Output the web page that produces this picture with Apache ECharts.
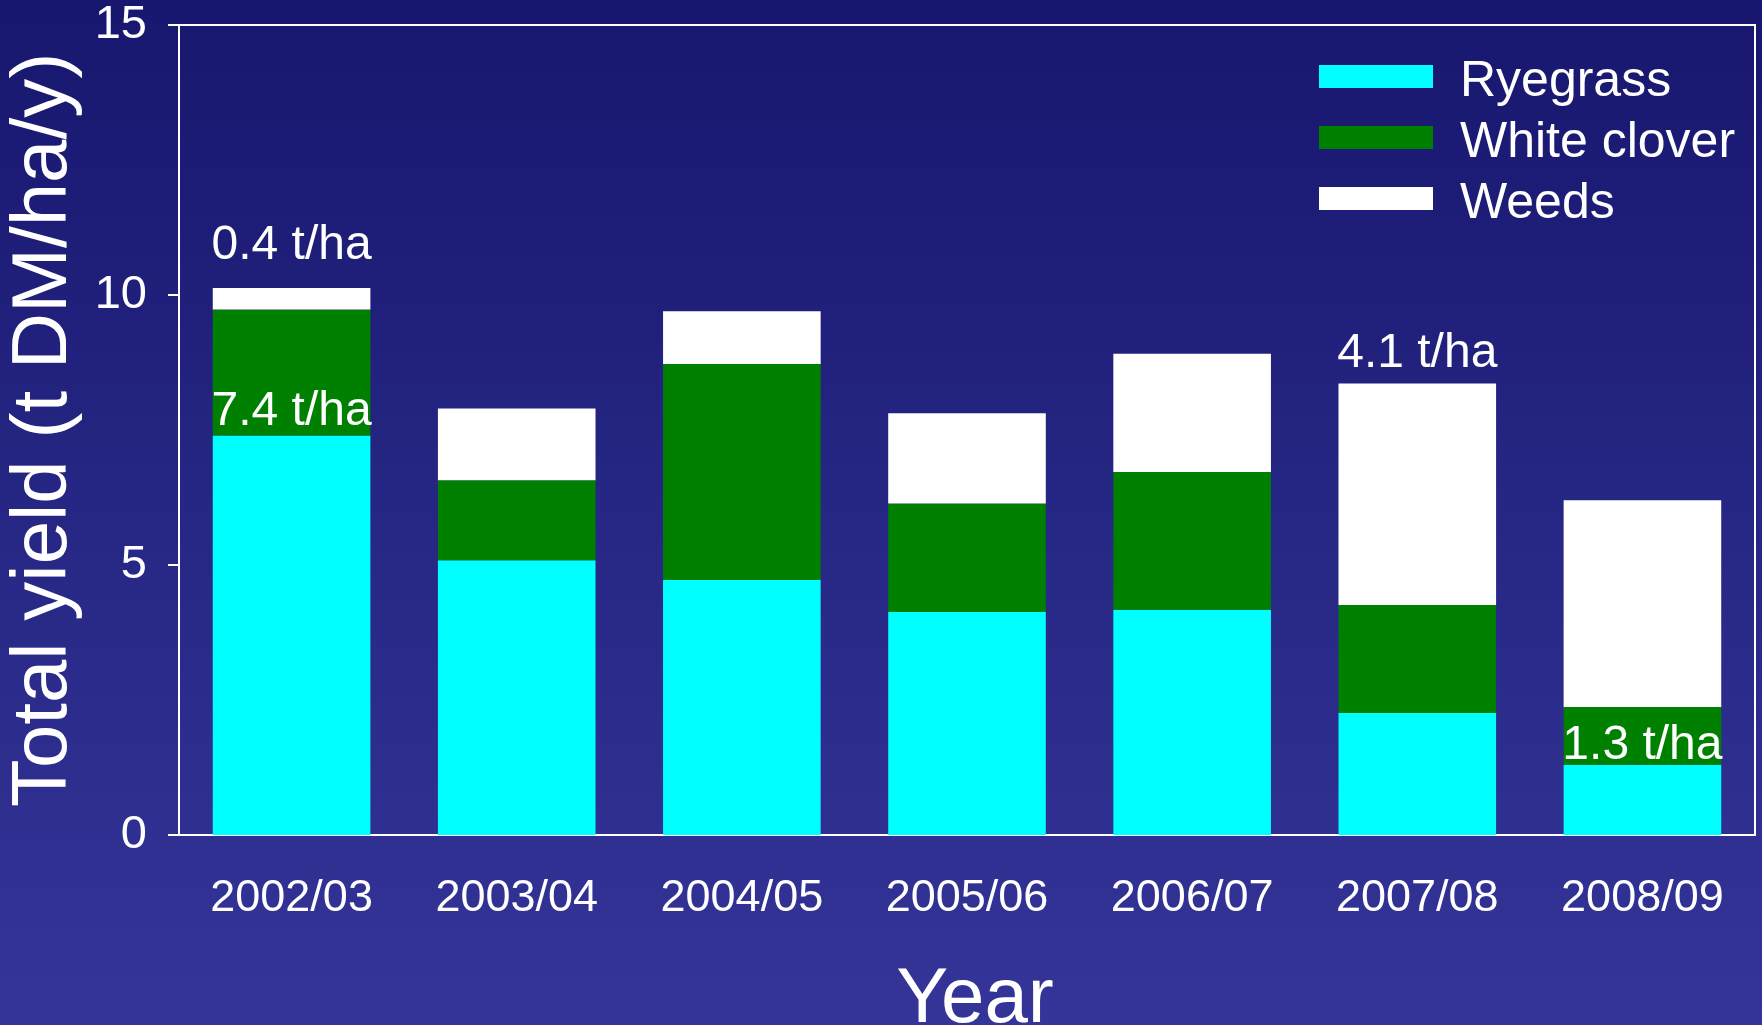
<!DOCTYPE html>
<html>
<head>
<meta charset="utf-8">
<title>Total yield by year</title>
<script src="https://cdn.jsdelivr.net/npm/echarts@6/dist/echarts.min.js"></script>
<style>
  html, body { margin: 0; padding: 0; }
  #chart { width: 1762px; height: 1025px; }
</style>
</head>
<body>
<div id="chart"></div>
<script>
// Yield components per season (t DM/ha/y)
const years = ['2002/03', '2003/04', '2004/05', '2005/06', '2006/07', '2007/08', '2008/09'];
const ryegrass = [7.4, 5.09, 4.72, 4.13, 4.17, 2.26, 1.3];
const whiteClover = [2.33, 1.48, 4.0, 2.01, 2.55, 2.0, 1.07];
const weeds = [0.4, 1.33, 0.98, 1.67, 2.19, 4.1, 3.83];
const yTicks = [0, 5, 10, 15];

const FONT = '"Liberation Sans", Arial, Helvetica, sans-serif';

// which seasons carry a "x t/ha" annotation, and how far above the segment it sits
const ryegrassNotes = { 0: 0, 6: -5 };
const weedsNotes = { 0: 18, 5: 6 };

function withNotes(values, notes) {
  return values.map((v, i) => {
    if (!(i in notes)) return v;
    return {
      value: v,
      label: {
        show: true,
        position: 'top',
        distance: notes[i],
        color: '#ffffff',
        fontFamily: FONT,
        fontSize: 48,
        formatter: p => p.value.toFixed(1) + ' t/ha'
      }
    };
  });
}

const chart = echarts.init(document.getElementById('chart'), null, { renderer: 'canvas' });

chart.setOption({
  animation: false,
  backgroundColor: {
    type: 'linear', x: 0, y: 0, x2: 0, y2: 1,
    colorStops: [
      { offset: 0, color: '#17176f' },
      { offset: 1, color: '#353599' }
    ]
  },
  textStyle: { fontFamily: FONT, color: '#ffffff' },
  grid: {
    left: 179, right: 7, top: 25, bottom: 190,
    outerBoundsMode: 'none',
    containLabel: false,
    show: true,
    borderColor: '#ffffff',
    borderWidth: 2,
    backgroundColor: 'transparent'
  },
  legend: {
    left: 1319,
    top: 46,
    padding: 0,
    orient: 'vertical',
    itemWidth: 114,
    itemHeight: 23,
    itemGap: 0,
    icon: 'rect',
    // the name sits a little below the swatch centre: a tall empty token
    // sets the line height and the name is pushed to its bottom
    formatter: name => '{n|' + name + '}{s|}',
    textStyle: {
      color: '#ffffff',
      fontFamily: FONT,
      fontSize: 50,
      lineHeight: 50,
      padding: [0, 0, 0, 22],
      rich: {
        n: {
          color: '#ffffff',
          fontFamily: FONT,
          fontSize: 50,
          lineHeight: 50,
          verticalAlign: 'bottom'
        },
        s: { width: 0, height: 61, lineHeight: 61 }
      }
    },
    data: ['Ryegrass', 'White clover', 'Weeds']
  },
  xAxis: {
    type: 'category',
    data: years,
    name: 'Year',
    nameLocation: 'middle',
    nameGap: 126,
    nameTextStyle: { color: '#ffffff', fontFamily: FONT, fontSize: 78, padding: [0, 0, 0, 16] },
    axisLine: { lineStyle: { color: '#ffffff', width: 2 } },
    axisTick: { alignWithLabel: true, length: 10, lineStyle: { color: '#ffffff', width: 2 } },
    axisLabel: { color: '#ffffff', fontFamily: FONT, fontSize: 45, margin: 41 },
    splitLine: { show: false }
  },
  yAxis: {
    type: 'value',
    min: yTicks[0],
    max: yTicks[yTicks.length - 1],
    interval: yTicks[1] - yTicks[0],
    name: 'Total yield (t DM/ha/y)',
    nameLocation: 'middle',
    nameGap: 88,
    nameTextStyle: { color: '#ffffff', fontFamily: FONT, fontSize: 78 },
    axisLine: { show: true, lineStyle: { color: '#ffffff', width: 2 } },
    axisTick: { show: true, length: 11, lineStyle: { color: '#ffffff', width: 2 } },
    axisLabel: { color: '#ffffff', fontFamily: FONT, fontSize: 47, margin: 32 },
    splitLine: { show: false }
  },
  series: [
    {
      name: 'Ryegrass', type: 'bar', stack: 'yield', barWidth: '70%',
      itemStyle: { color: '#00ffff' },
      data: withNotes(ryegrass, ryegrassNotes)
    },
    {
      name: 'White clover', type: 'bar', stack: 'yield', barWidth: '70%',
      itemStyle: { color: '#008000' },
      data: whiteClover
    },
    {
      name: 'Weeds', type: 'bar', stack: 'yield', barWidth: '70%',
      itemStyle: { color: '#ffffff' },
      data: withNotes(weeds, weedsNotes)
    }
  ]
});
</script>
</body>
</html>
